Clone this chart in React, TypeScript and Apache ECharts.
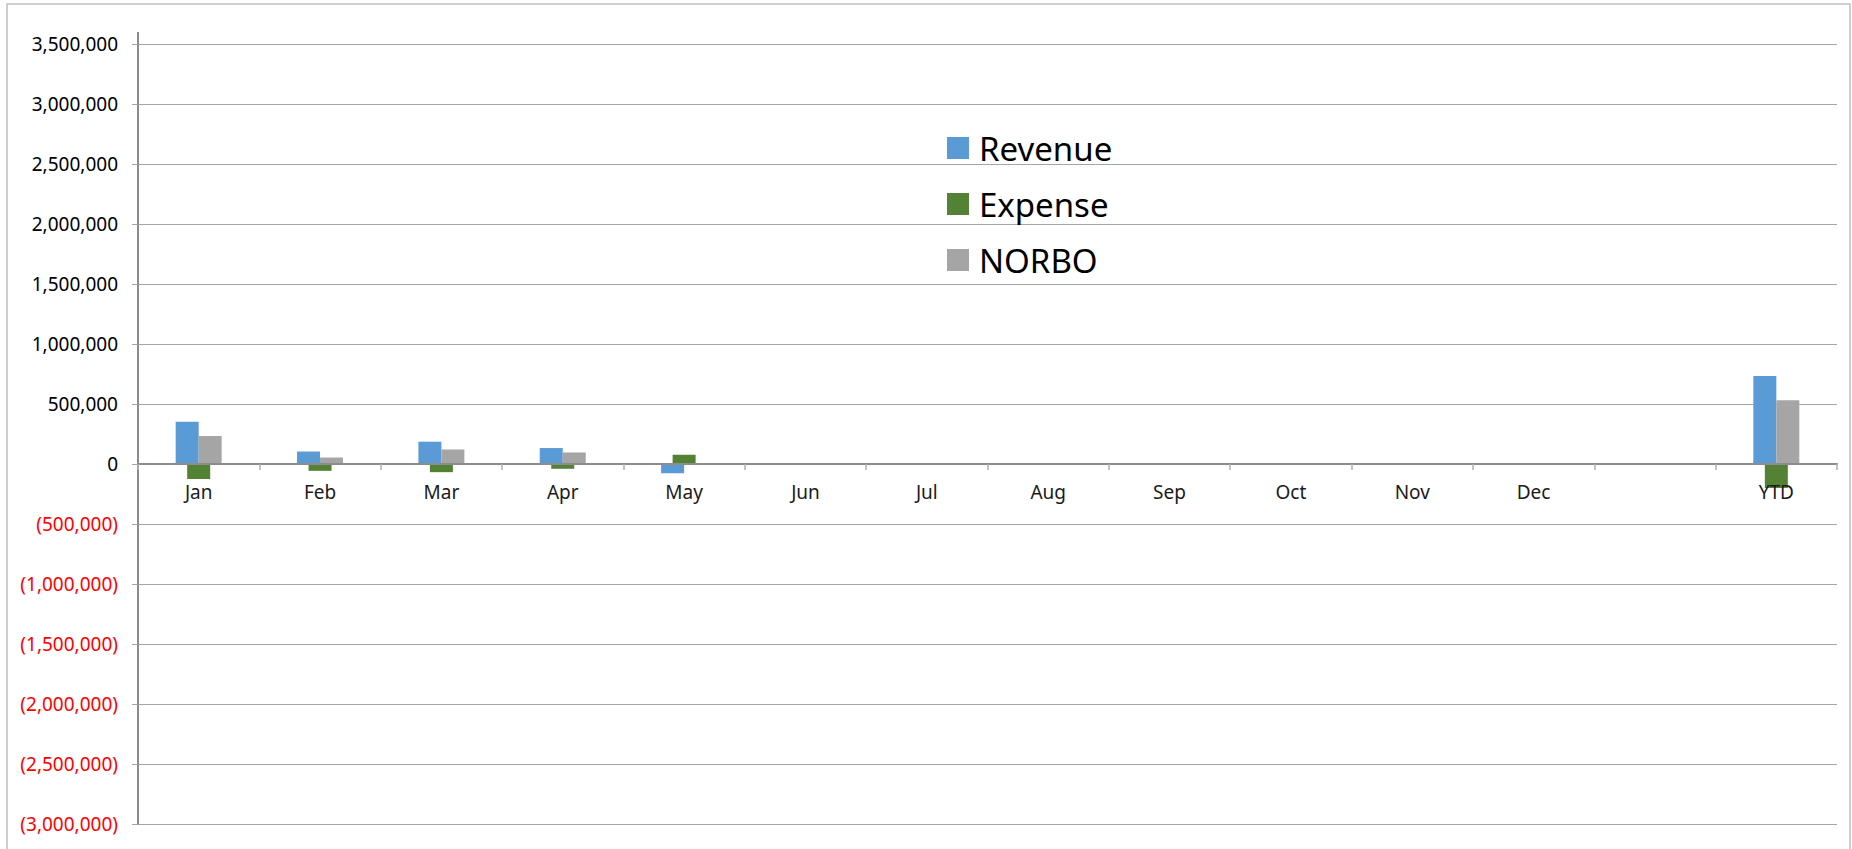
import React, { useEffect, useRef } from "react";
import * as echarts from "echarts";

const categories = ["Jan", "Feb", "Mar", "Apr", "May", "Jun", "Jul", "Aug", "Sep", "Oct", "Nov", "Dec", "", "YTD"];
const revenue = [352000, 104000, 186000, 133000, -77000, null, null, null, null, null, null, null, null, 733000];
const expense = [-125000, -57000, -68000, -40000, 77000, null, null, null, null, null, null, null, null, -200000];
const norbo = [233000, 54000, 121000, 96000, -3000, null, null, null, null, null, null, null, null, 531000];
const yMin = -3000000;
const yMax = 3500000;
const yStep = 500000;

const fmt = (v: number) => {
  const s = Math.abs(v).toLocaleString("en-US");
  return v < 0 ? `(${s})` : s;
};

export default function App() {
  const ref = useRef<HTMLDivElement>(null);
  useEffect(() => {
    document.body.style.margin = "0";
    const chart = echarts.init(ref.current!, null, { renderer: "svg" });
    const font = "Noto Sans";
    const gridTop = 44;
    const gridHeight = 780;
    const gridLeft = 138;
    const zeroOffset = -Math.round((gridHeight * (0 - yMin)) / (yMax - yMin));
    chart.setOption({
      animation: false,
      backgroundColor: "#ffffff",
      graphic: [
        {
          type: "rect",
          shape: { x: 7, y: 4, width: 1843, height: 900 },
          style: { fill: "none", stroke: "#bfbfbf", lineWidth: 1.5 },
          silent: true,
        },
        {
          type: "line",
          shape: { x1: gridLeft, y1: 32, x2: gridLeft, y2: gridTop },
          style: { stroke: "#8c8c8c", lineWidth: 2 },
          silent: true,
        },
      ],
      legend: {
        orient: "vertical",
        left: 947,
        top: 131,
        padding: 0,
        itemWidth: 22,
        itemHeight: 22,
        itemGap: 22,
        icon: "rect",
        textStyle: { fontFamily: font, fontSize: 33, lineHeight: 34, color: "#000", padding: [0, 0, 0, 5] },
        data: ["Revenue", "Expense", "NORBO"],
      },
      grid: { left: gridLeft, right: 15, top: gridTop, height: gridHeight, containLabel: false },
      xAxis: [
        {
          type: "category",
          data: categories,
          position: "bottom",
          offset: zeroOffset,
          z: 5,
          axisLine: { onZero: false, lineStyle: { color: "#8c8c8c", width: 2 } },
          axisTick: { show: true, length: 6, lineStyle: { color: "#b0b0b0", width: 1.5 } },
          axisLabel: { interval: 0, fontFamily: font, fontSize: 19, color: "#1a1a1a", margin: 18 },
          splitLine: { show: false },
        },
        {
          type: "category",
          data: categories,
          show: false,
        },
      ],
      yAxis: {
        type: "value",
        min: yMin,
        max: yMax,
        interval: yStep,
        axisLine: { show: true, lineStyle: { color: "#8c8c8c", width: 2 } },
        axisTick: { show: true, length: 6, lineStyle: { color: "#a6a6a6" } },
        axisLabel: {
          fontFamily: font,
          fontSize: 19,
          margin: 20,
          formatter: (v: number) => fmt(v),
          color: (v: any) => (Number(v) < 0 ? "#ff0000" : "#000000"),
        },
        splitLine: { show: true, lineStyle: { color: "#a6a6a6", width: 1 } },
      },
      series: [
        {
          name: "Revenue",
          type: "bar",
          xAxisIndex: 0,
          data: revenue,
          barWidth: 23,
          barGap: "0%",
          itemStyle: { color: "#5b9bd5" },
        },
        {
          name: "NORBO",
          type: "bar",
          xAxisIndex: 0,
          data: norbo,
          barWidth: 23,
          barGap: "0%",
          itemStyle: { color: "#a5a5a5" },
        },
        {
          name: "Expense",
          type: "bar",
          xAxisIndex: 1,
          data: expense,
          barWidth: 23,
          itemStyle: { color: "#548235" },
        },
      ],
    });
    return () => chart.dispose();
  }, []);
  return <div ref={ref} style={{ width: 1852, height: 849 }} />;
}
